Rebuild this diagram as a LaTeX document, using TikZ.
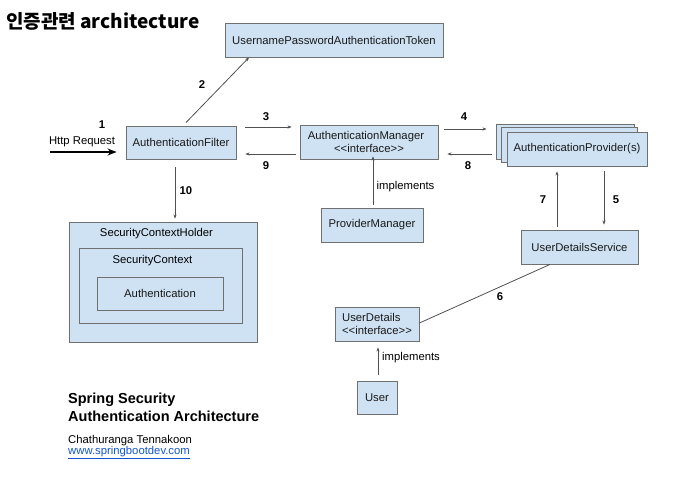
\documentclass[tikz,border=0pt]{standalone}
\usepackage{fontspec}
\setmainfont{Liberation Sans}
\newfontfamily\cjk{Noto Sans CJK KR}
\usetikzlibrary{arrows.meta}
\definecolor{boxfill}{HTML}{CFE2F3}
\definecolor{boxline}{HTML}{707070}
\definecolor{arrline}{HTML}{505050}
\definecolor{linkblue}{HTML}{1155CC}
\newcommand\dlt{<\kern0pt<}
\newcommand\dgt{>\kern0pt>}
\tikzset{
  box/.style={draw=boxline, fill=boxfill, line width=0.9pt, inner sep=0pt,
    font=\fontsize{11.3}{13.5}\selectfont, text=black!90, align=center},
  arr/.style={draw=arrline, line width=0.8pt, -{Stealth[length=4pt,width=3.2pt]}},
  plain/.style={draw=arrline, line width=0.8pt},
  num/.style={font=\fontsize{11.3}{13}\selectfont\bfseries, inner sep=0pt},
  lbl/.style={font=\fontsize{11.3}{13}\selectfont, inner sep=0pt},
}
\begin{document}
\begin{tikzpicture}[x=1pt,y=-1pt]
\useasboundingbox (0,0) rectangle (678,479);
% title
\node[anchor=west, inner sep=0pt, font=\cjk\fontsize{19}{22}\selectfont\bfseries] (title) at (6,21) {인증관련 architecture};
% boxes
\node[box, minimum width=218pt, minimum height=34pt] (token) at (334,40) {UsernamePasswordAuthenticationToken};
\node[box, minimum width=110pt, minimum height=33pt] (filter) at (181,142.5) {AuthenticationFilter};
\node[box, minimum width=138pt, minimum height=34pt] (manager) at (369,142) {\hspace*{-6pt}AuthenticationManager\\\dlt interface\dgt};
\node[box, minimum width=138pt, minimum height=35pt] (provback) at (565,141.5) {};
\node[box, minimum width=136pt, minimum height=35pt] (provmid) at (569,144.5) {};
\node[box, minimum width=140pt, minimum height=34pt] (prov) at (577,149) {AuthenticationProvider(s)};
\node[box, minimum width=102pt, minimum height=34pt] (pm) at (372,225) {ProviderManager};
\node[box, minimum width=117pt, minimum height=34pt] (uds) at (579.5,247) {UserDetailsService};
\node[box, minimum width=188pt, minimum height=120pt] (sch) at (163,282) {};
\node[box, minimum width=163pt, minimum height=75pt] (sc) at (160.5,285.5) {};
\node[box, minimum width=126pt, minimum height=33pt] (auth) at (160,293.5) {Authentication};
\node[lbl] (schlbl) at (156.5,233.5) {SecurityContextHolder};
\node[lbl] (sclbl) at (152.5,260.5) {SecurityContext};
\node[box, minimum width=84pt, minimum height=34pt, align=left] (ud) at (377,324) {UserDetails\\\dlt interface\dgt};
\node[box, minimum width=40pt, minimum height=33pt] (user) at (377,397.5) {User};
% http request
\coordinate (httpstart) at (50,152);
\draw[line width=2pt, draw=black, -{Stealth[length=9pt,width=7pt]}] (httpstart) -- ([xshift=-9pt,yshift=-9.5pt]filter.west);
\node[lbl] (httplbl) at (82,142) {Http Request};
\node[num] (n1) at (102,124.5) {1};
% 2
\draw[arr] ([xshift=5pt,yshift=3pt]filter.north) -- ([xshift=-85pt]token.south);
\node[num] (n2) at (202,85) {2};
% 3 and 9
\draw[arr] ([xshift=9pt,yshift=15.5pt]filter.east) -- ([xshift=-8pt,yshift=15.5pt]filter.east -| manager.west);
\node[num] (n3) at (266,116.5) {3};
\draw[arr] ([xshift=-4pt,yshift=-12pt]manager.west) -- ([xshift=9pt,yshift=-12pt]manager.west -| filter.east);
\node[num] (n9) at (266,166) {9};
% 10
\draw[arr] ([xshift=-6pt,yshift=-8pt]filter.south) -- ([xshift=12pt,yshift=3pt]sch.north);
\node[num] (n10) at (186,191) {10};
% 4 and 8
\draw[arr] ([xshift=6pt,yshift=13pt]manager.east) -- ([xshift=-9pt,yshift=13pt]manager.east -| provback.west);
\node[num] (n4) at (464,116.5) {4};
\draw[arr] ([xshift=-4pt,yshift=-12pt]manager.east -| provback.west) -- ([xshift=9pt,yshift=-12pt]manager.east);
\node[num] (n8) at (468,166) {8};
% implements (manager)
\draw[arr] ([xshift=1pt,yshift=3pt]pm.north) -- ([xshift=1pt,yshift=3pt]pm.north |- manager.south);
\node[lbl] (impl1) at (405.5,187) {implements};
% 7 and 5
\draw[arr] ([xshift=-22.5pt,yshift=3pt]uds.north) -- ([xshift=-22.5pt,yshift=-5pt]uds.north |- prov.south);
\node[num] (n7) at (543,200) {7};
\draw[arr] ([xshift=24.5pt,yshift=-5pt]uds.north |- prov.south) -- ([xshift=24.5pt,yshift=5pt]uds.north);
\node[num] (n5) at (616,200) {5};
% 6
\draw[plain] ([yshift=1pt]ud.east) -- ([xshift=-29.5pt]uds.south);
\node[num] (n6) at (500,297) {6};
% implements (user)
\draw[arr] ([xshift=1pt,yshift=6pt]user.north) -- ([xshift=1pt,yshift=-6pt]ud.south);
\node[lbl] (impl2) at (411,358) {implements};
% bottom text
\node[anchor=west, inner sep=0pt, font=\fontsize{14.5}{18}\selectfont\bfseries, align=left] (caption) at (68,407) {Spring Security\\Authentication Architecture};
\node[anchor=west, inner sep=0pt, font=\fontsize{11.3}{13}\selectfont] (author) at (68,441) {Chathuranga Tennakoon};
\node[anchor=west, inner sep=0pt, font=\fontsize{11.3}{13}\selectfont, text=linkblue] (link) at (68,452.5) {\underline{www.springbootdev.com}};
\end{tikzpicture}
\end{document}
